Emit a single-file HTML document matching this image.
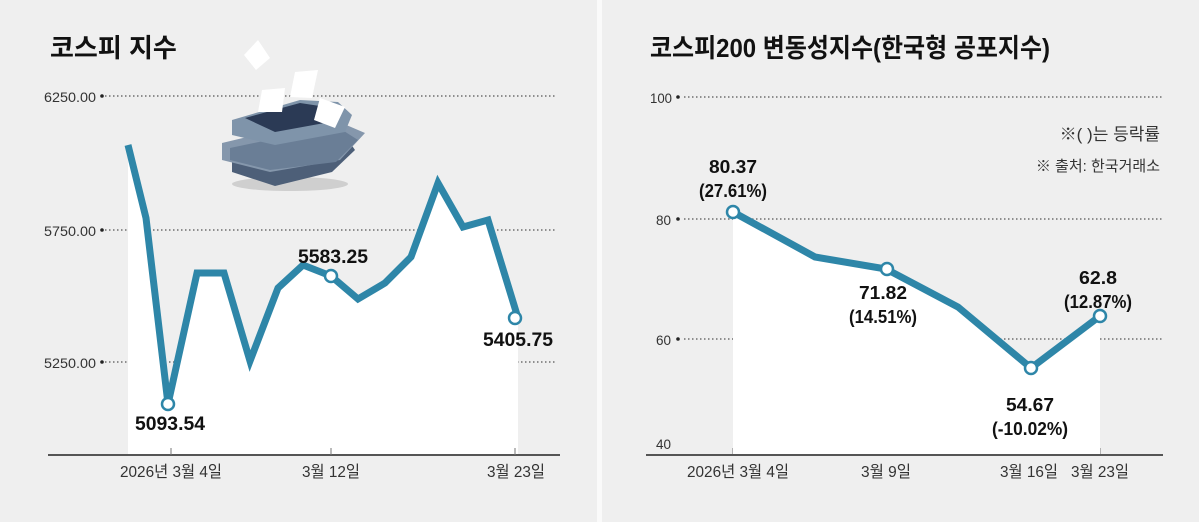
<!DOCTYPE html><html><head><meta charset="utf-8"><style>body{margin:0;background:#efefef}svg{display:block}text{font-family:"Liberation Sans","Noto Sans CJK KR",sans-serif}</style></head><body>
<svg width="1199" height="522" viewBox="0 0 1199 522">
<rect width="1199" height="522" fill="#efefef"/>
<rect x="597" y="0" width="5" height="522" fill="#fafafa"/>
<text x="50" y="57" font-size="26" font-weight="bold" fill="#111">코스피 지수</text>
<g stroke="#555" stroke-width="1.2" stroke-dasharray="1.5 2.5">
<line x1="105" y1="96" x2="557" y2="96"/><line x1="105" y1="230" x2="557" y2="230"/><line x1="105" y1="362" x2="557" y2="362"/>
<line x1="684" y1="97" x2="1162" y2="97"/><line x1="684" y1="219" x2="1162" y2="219"/><line x1="684" y1="339" x2="1162" y2="339"/></g>
<g fill="#222"><circle cx="102" cy="96" r="1.8"/><circle cx="102" cy="230" r="1.8"/><circle cx="102" cy="362" r="1.8"/><circle cx="678" cy="97" r="1.8"/><circle cx="678" cy="219" r="1.8"/><circle cx="678" cy="339" r="1.8"/></g>
<g font-size="14" fill="#333">
<text x="44" y="102" textLength="52" lengthAdjust="spacingAndGlyphs">6250.00</text>
<text x="44" y="236" textLength="52" lengthAdjust="spacingAndGlyphs">5750.00</text>
<text x="44" y="368" textLength="52" lengthAdjust="spacingAndGlyphs">5250.00</text>
<text x="650" y="103" textLength="22" lengthAdjust="spacingAndGlyphs">100</text>
<text x="656" y="225" textLength="15" lengthAdjust="spacingAndGlyphs">80</text>
<text x="656" y="345" textLength="15" lengthAdjust="spacingAndGlyphs">60</text>
<text x="656" y="449" textLength="15" lengthAdjust="spacingAndGlyphs">40</text></g>
<polygon fill="#fff" points="128,145 146,218 168,404 197,273 224,273 250,361 278,288 303,265 331,276 358,299 385,283 411,257 438,183 463,227 488,220 518,318 518,455 128,455"/>
<g>
<ellipse cx="290" cy="184" rx="58" ry="7" fill="#cfcfcf"/>
<polygon points="232,172 232,150 340,128 355,150 332,172 275,186" fill="#4d5f78"/>
<polygon points="222,160 222,143 268,132 330,118 365,133 340,160 270,172" fill="#8597ac"/>
<polygon points="230,148 336,126 358,140 336,162 270,170 230,160" fill="#6a7e96"/>
<polygon points="232,135 232,120 300,100 338,102 352,115 345,132 275,145" fill="#7f94aa"/>
<polygon points="245,118 300,103 333,108 330,122 275,132" fill="#2b3a55"/>
<polygon points="262,90 285,88 282,112 258,112" fill="#fff"/>
<polygon points="295,72 318,70 312,98 290,97" fill="#fff"/>
<polygon points="320,98 345,107 335,128 314,120" fill="#fff"/>
<polygon points="244,55 258,40 270,58 256,70" fill="#fff"/>
</g>
<polyline fill="none" stroke="#2e86a8" stroke-width="7" points="128,145 146,218 168,404 197,273 224,273 250,361 278,288 303,265 331,276 358,299 385,283 411,257 438,183 463,227 488,220 518,318"/>
<g fill="#fff" stroke="#2e86a8" stroke-width="2.5"><circle cx="168" cy="404" r="6"/><circle cx="331" cy="276" r="6"/><circle cx="515" cy="318" r="6"/></g>
<g font-size="19" font-weight="bold" fill="#111" text-anchor="middle">
<text x="170" y="430" textLength="70" lengthAdjust="spacingAndGlyphs">5093.54</text><text x="333" y="263" textLength="70" lengthAdjust="spacingAndGlyphs">5583.25</text><text x="518" y="346" textLength="70" lengthAdjust="spacingAndGlyphs">5405.75</text></g>
<line x1="48" y1="455" x2="560" y2="455" stroke="#555" stroke-width="2"/>
<g stroke="#777" stroke-width="1"><line x1="171" y1="448" x2="171" y2="455"/><line x1="331" y1="448" x2="331" y2="455"/><line x1="515" y1="448" x2="515" y2="455"/>
<line x1="733" y1="448" x2="733" y2="455"/><line x1="887" y1="448" x2="887" y2="455"/><line x1="1031" y1="448" x2="1031" y2="455"/><line x1="1100" y1="448" x2="1100" y2="455"/></g>
<g font-size="16" fill="#333" text-anchor="middle">
<text x="171" y="477" textLength="102" lengthAdjust="spacingAndGlyphs">2026년 3월 4일</text>
<text x="331" y="477" textLength="58" lengthAdjust="spacingAndGlyphs">3월 12일</text>
<text x="516" y="477" textLength="58" lengthAdjust="spacingAndGlyphs">3월 23일</text>
<text x="738" y="477" textLength="102" lengthAdjust="spacingAndGlyphs">2026년 3월 4일</text>
<text x="886" y="477" textLength="50" lengthAdjust="spacingAndGlyphs">3월 9일</text>
<text x="1029" y="477" textLength="58" lengthAdjust="spacingAndGlyphs">3월 16일</text>
<text x="1100" y="477" textLength="58" lengthAdjust="spacingAndGlyphs">3월 23일</text></g>
<text x="650" y="57" font-size="26" font-weight="bold" fill="#111" textLength="400" lengthAdjust="spacingAndGlyphs">코스피200 변동성지수(한국형 공포지수)</text>
<text x="1160" y="140" font-size="17" fill="#333" text-anchor="end">※( )는 등락률</text>
<text x="1160" y="171" font-size="15" fill="#333" text-anchor="end">※ 출처: 한국거래소</text>
<polygon fill="#fff" points="733,212 815,257 886,269 958,307 1031,368 1100,316 1100,455 733,455"/>
<polyline fill="none" stroke="#2e86a8" stroke-width="7" points="733,212 815,257 886,269 958,307 1031,368 1100,316"/>
<g fill="#fff" stroke="#2e86a8" stroke-width="2.5"><circle cx="733" cy="212" r="6"/><circle cx="887" cy="269" r="6"/><circle cx="1031" cy="368" r="6"/><circle cx="1100" cy="316" r="6"/></g>
<g font-size="18" font-weight="bold" fill="#111" text-anchor="middle">
<text x="733" y="173" textLength="48" lengthAdjust="spacingAndGlyphs">80.37</text><text x="733" y="197" textLength="68" lengthAdjust="spacingAndGlyphs">(27.61%)</text>
<text x="883" y="299" textLength="48" lengthAdjust="spacingAndGlyphs">71.82</text><text x="883" y="323" textLength="68" lengthAdjust="spacingAndGlyphs">(14.51%)</text>
<text x="1030" y="411" textLength="48" lengthAdjust="spacingAndGlyphs">54.67</text><text x="1030" y="435" textLength="76" lengthAdjust="spacingAndGlyphs">(-10.02%)</text>
<text x="1098" y="284" textLength="38" lengthAdjust="spacingAndGlyphs">62.8</text><text x="1098" y="308" textLength="68" lengthAdjust="spacingAndGlyphs">(12.87%)</text></g>
<line x1="646" y1="455" x2="1163" y2="455" stroke="#555" stroke-width="2"/>
</svg></body></html>
